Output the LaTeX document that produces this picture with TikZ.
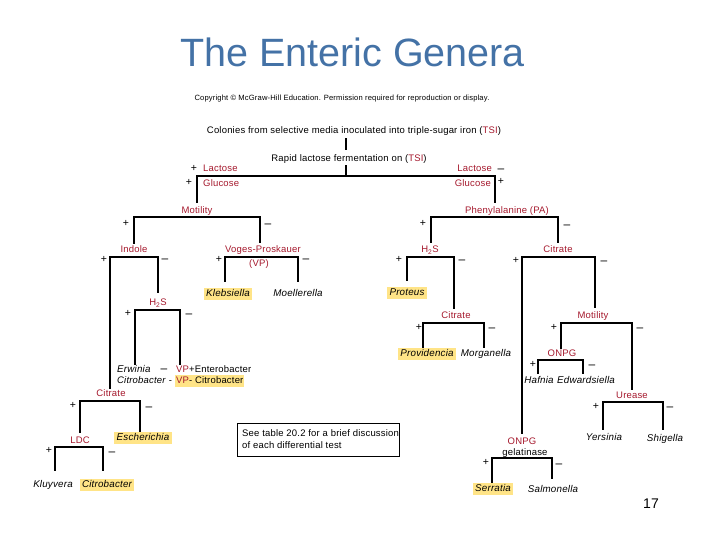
\documentclass[tikz,border=0pt]{standalone}
\usepackage{fontspec}
\setmainfont[LetterSpace=2]{Liberation Sans}
\newfontfamily\titlefont{Liberation Sans}
\definecolor{ttl}{RGB}{68,114,166}
\definecolor{lred}{RGB}{165,25,45}
\definecolor{hly}{RGB}{255,228,135}
\tikzset{
  br/.style={line width=2.9pt, line cap=rect},
  t/.style={inner sep=0pt, font=\fontsize{9.5}{11}\selectfont, text height=7pt, text depth=2pt},
  lab/.style={t, text=lred},
  sp/.style={t, font=\fontsize{9.8}{11}\selectfont\itshape},
  hl/.style={fill=hly, inner xsep=2.5pt, inner ysep=1.5pt},
  pl/.style={t, font=\fontsize{10.5}{11}\selectfont},
  mi/.style={t, font=\fontsize{12}{12}\selectfont},
}
\newcommand\brk[6]{\coordinate (#1L) at (#2,#5); \coordinate (#1R) at (#3,#6); \coordinate (#1M) at (#3,#4); \draw[br] (#1L) |- (#1M) -- (#1R);}
\begin{document}
\begin{tikzpicture}[x=1pt,y=-1pt]
\useasboundingbox (0,0) rectangle (720,540);
% title and header
\node[anchor=base, inner sep=0pt, text=ttl, font=\titlefont\fontsize{39.5}{42}\selectfont] (title) at (352.5,67) {The Enteric Genera};
\node[t, font=\fontsize{7.6}{8}\selectfont, text height=5pt, text depth=1.5pt] (copy) at (342,99) {Copyright © McGraw-Hill Education. Permission required for reproduction or display.};
\node[t] (colonies) at (354,131) {Colonies from selective media inoculated into triple-sugar iron (\textcolor{lred}{TSI})};
\node[t] (rapid) at (349,159) {Rapid lactose fermentation on (\textcolor{lred}{TSI})};
\coordinate (c1) at (346,139); \coordinate (c2) at (346,149);
\draw[br] (c1) -- (c2);
\coordinate (c3) at (346,166); \coordinate (c4) at (346,176);
\draw[br] (c3) -- (c4);
% top bracket
\brk{top}{197}{495}{176}{202}{202}
\node[pl] (p1) at (194,169) {+};
\node[lab, anchor=west] (lacL) at (203,169) {Lactose};
\node[pl] (p2) at (189,183) {+};
\node[lab, anchor=west] (gluL) at (203,184) {Glucose};
\node[lab, anchor=east] (lacR) at (492,169) {Lactose};
\node[mi] (m1) at (501,170) {–};
\node[lab, anchor=east] (gluR) at (491,184) {Glucose};
\node[pl] (p3) at (501,182) {+};
% left main
\node[lab] (mot) at (197,211) {Motility};
\brk{motb}{134}{260}{217}{243}{242}
\node[pl] (p4) at (126,224) {+};
\node[mi] (m4) at (268,225) {–};
\node[lab] (indole) at (134,250) {Indole};
\node[lab] (vp) at (263,250) {Voges-Proskauer};
\node[lab] (vp2) at (259,264) {(VP)};
\brk{ind}{110}{158}{257}{388}{292}
\node[pl] (p5) at (104,260) {+};
\node[mi] (m5) at (165,260) {–};
\brk{vpb}{225}{298}{257}{281}{281}
\node[pl] (p6) at (219,260) {+};
\node[mi] (m6) at (306,260) {–};
\node[sp, hl] (kleb) at (228,294) {Klebsiella};
\node[sp] (moell) at (298,294) {Moellerella};
\node[lab] (h2sL) at (158,303) {H\textsubscript{2}S};
\brk{hsl}{135}{180}{310}{364}{364}
\node[pl] (p7) at (128,314) {+};
\node[mi] (m7) at (189,315) {–};
\node[sp, anchor=west] (erw) at (117,370) {Erwinia};
\node[mi] (m8) at (164,370) {–};
\node[t, anchor=west] (ent) at (176,370) {\textcolor{lred}{VP}+Enterobacter};
\node[t, anchor=west] (cit1) at (117,381) {\textit{Citrobacter} -};
\node[t, hl, inner xsep=1pt, anchor=west] (cit2) at (175,381) {\textcolor{lred}{VP}- Citrobacter};
\node[lab] (citL) at (111,394) {Citrate};
\brk{citl}{80}{140}{401}{432}{431}
\node[pl] (p9) at (73,406) {+};
\node[mi] (m9) at (149,408) {–};
\node[sp, hl] (esch) at (143,438) {Escherichia};
\node[lab] (ldc) at (80,441) {LDC};
\brk{ldcb}{55}{103}{447}{470}{470}
\node[pl] (p10) at (49,451) {+};
\node[mi] (m10) at (112,453) {–};
\node[sp] (kluy) at (53,485) {Kluyvera};
\node[sp, hl] (citro) at (107,485) {Citrobacter};
% right main
\node[lab] (pa) at (507,211) {Phenylalanine (PA)};
\brk{pab}{431}{558}{217}{242}{242}
\node[pl] (p11) at (423,224) {+};
\node[mi] (m11) at (567,226) {–};
\node[lab] (h2sR) at (430,250) {H\textsubscript{2}S};
\node[lab] (citR) at (558,250) {Citrate};
\brk{hsr}{407}{454}{257}{280}{308}
\node[pl] (p12) at (399,260) {+};
\node[mi] (m12) at (462,261) {–};
\brk{citr}{522}{595}{257}{433}{307}
\node[pl] (p13) at (516,261) {+};
\node[mi] (m13) at (604,262) {–};
\node[sp, hl] (prot) at (407,293) {Proteus};
\node[lab] (citR2) at (456,316) {Citrate};
\node[lab] (motR) at (593,316) {Motility};
\brk{citrb}{423}{484}{323}{347}{347}
\node[pl] (p14) at (419,328) {+};
\node[mi] (m14) at (492,329) {–};
\brk{motrb}{561}{632}{323}{348}{389}
\node[pl] (p15) at (554,328) {+};
\node[mi] (m15) at (640,329) {–};
\node[sp, hl] (prov) at (427,354) {Providencia};
\node[sp] (morg) at (486,354) {Morganella};
\node[lab] (onpg1) at (562,354) {ONPG};
\brk{onpa}{538}{583}{360}{373}{373}
\node[pl] (p16) at (533,365) {+};
\node[mi] (m16) at (592,366) {–};
\node[sp] (hafn) at (539,381) {Hafnia};
\node[sp] (edw) at (586,381) {Edwardsiella};
\node[lab] (ure) at (632,396) {Urease};
\brk{ureb}{603}{663}{402}{429}{429}
\node[pl] (p17) at (596,407) {+};
\node[mi] (m17) at (670,408) {–};
\node[sp] (yers) at (604,438) {Yersinia};
\node[sp] (shig) at (665,439) {Shigella};
\node[lab] (onpg2) at (522,442) {ONPG};
\node[t] (gel) at (525,453) {gelatinase};
\brk{onpb}{492}{552}{458}{482}{478}
\node[pl] (p18) at (486,463) {+};
\node[mi] (m18) at (559,465) {–};
\node[sp, hl] (serr) at (493,489) {Serratia};
\node[sp] (salm) at (553,490) {Salmonella};
% note box
\node[draw, line width=1pt, minimum width=162pt, minimum height=33pt, inner sep=0pt] (box) at (318,439.5) {};
\node[t, anchor=west] (note1) at (242,434) {See table 20.2 for a brief discussion};
\node[t, anchor=west] (note2) at (242,446) {of each differential test};
\node[inner sep=0pt, font=\titlefont\fontsize{14}{16}\selectfont] (pg) at (651,504) {17};
\end{tikzpicture}
\end{document}
